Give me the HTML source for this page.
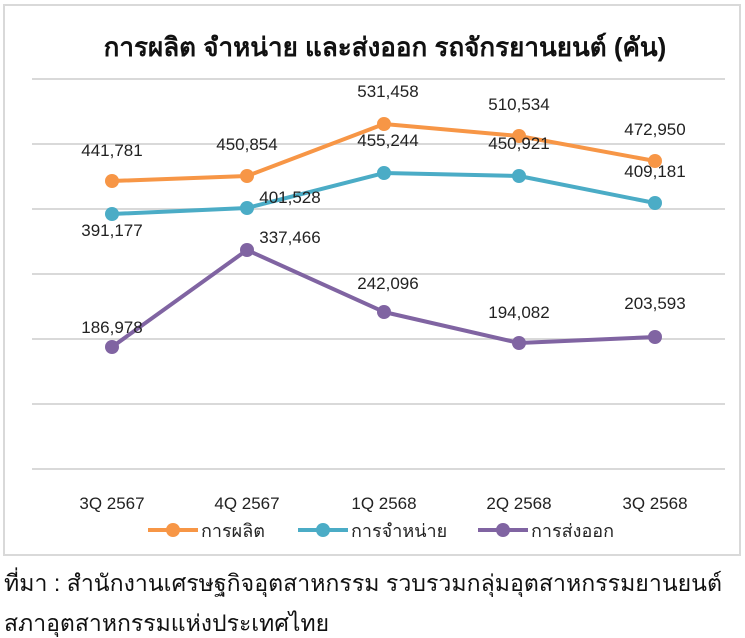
<!DOCTYPE html>
<html><head><meta charset="utf-8"><style>
body{margin:0;background:#fff;width:745px;height:638px;overflow:hidden;font-family:"Liberation Sans",sans-serif}
</style></head><body>
<svg width="745" height="638" xmlns="http://www.w3.org/2000/svg" style="position:absolute;left:0;top:0">
<rect x="4" y="5" width="736" height="550" fill="#fff" stroke="#d9d9d9" stroke-width="2"/>
<text x="385" y="56" text-anchor="middle" font-size="26" font-weight="bold" fill="#111">การผลิต จำหน่าย และส่งออก รถจักรยานยนต์ (คัน)</text>
<g stroke="#d9d9d9" stroke-width="2">
<line x1="32" y1="79" x2="725" y2="79"/><line x1="32" y1="144" x2="725" y2="144"/>
<line x1="32" y1="209" x2="725" y2="209"/><line x1="32" y1="274" x2="725" y2="274"/>
<line x1="32" y1="339" x2="725" y2="339"/><line x1="32" y1="404" x2="725" y2="404"/>
<line x1="32" y1="469" x2="725" y2="469"/></g>
<g fill="none" stroke-width="4" stroke-linejoin="round">
<polyline stroke="#f79646" points="112,181 247,176 384,124 519,136 655,161"/>
<polyline stroke="#4bacc6" points="112,214 247,208 384,173 519,176 655,203"/>
<polyline stroke="#8064a2" points="112,347 247,250 384,312 519,343 655,337"/></g>
<g fill="#f79646"><circle cx="112" cy="181" r="7"/><circle cx="247" cy="176" r="7"/><circle cx="384" cy="124" r="7"/><circle cx="519" cy="136" r="7"/><circle cx="655" cy="161" r="7"/></g>
<g fill="#4bacc6"><circle cx="112" cy="214" r="7"/><circle cx="247" cy="208" r="7"/><circle cx="384" cy="173" r="7"/><circle cx="519" cy="176" r="7"/><circle cx="655" cy="203" r="7"/></g>
<g fill="#8064a2"><circle cx="112" cy="347" r="7"/><circle cx="247" cy="250" r="7"/><circle cx="384" cy="312" r="7"/><circle cx="519" cy="343" r="7"/><circle cx="655" cy="337" r="7"/></g>
<g font-size="17" fill="#222" text-anchor="middle">
<text x="112" y="156">441,781</text><text x="247" y="150">450,854</text><text x="388" y="97">531,458</text><text x="519" y="110">510,534</text><text x="655" y="135">472,950</text>
<text x="112" y="236">391,177</text><text x="290" y="203">401,528</text><text x="388" y="146">455,244</text><text x="519" y="149">450,921</text><text x="655" y="177">409,181</text>
<text x="112" y="333">186,978</text><text x="290" y="243">337,466</text><text x="388" y="289">242,096</text><text x="519" y="318">194,082</text><text x="655" y="309">203,593</text>
<text x="112" y="509">3Q 2567</text><text x="247" y="509">4Q 2567</text><text x="384" y="509">1Q 2568</text><text x="519" y="509">2Q 2568</text><text x="655" y="509">3Q 2568</text>
</g>
<g stroke-width="4"><line x1="148" y1="530" x2="198" y2="530" stroke="#f79646"/><line x1="298" y1="530" x2="348" y2="530" stroke="#4bacc6"/><line x1="478" y1="530" x2="528" y2="530" stroke="#8064a2"/></g>
<circle cx="173" cy="530" r="7" fill="#f79646"/><circle cx="323" cy="530" r="7" fill="#4bacc6"/><circle cx="503" cy="530" r="7" fill="#8064a2"/>
<g font-size="18" fill="#222"><text x="201" y="537">การผลิต</text><text x="351" y="537">การจำหน่าย</text><text x="531" y="537">การส่งออก</text></g>
<g font-size="23" fill="#111"><text x="4" y="591" textLength="718" lengthAdjust="spacingAndGlyphs">ที่มา : สำนักงานเศรษฐกิจอุตสาหกรรม รวบรวมกลุ่มอุตสาหกรรมยานยนต์</text><text x="4" y="631">สภาอุตสาหกรรมแห่งประเทศไทย</text></g>
</svg>
</body></html>
